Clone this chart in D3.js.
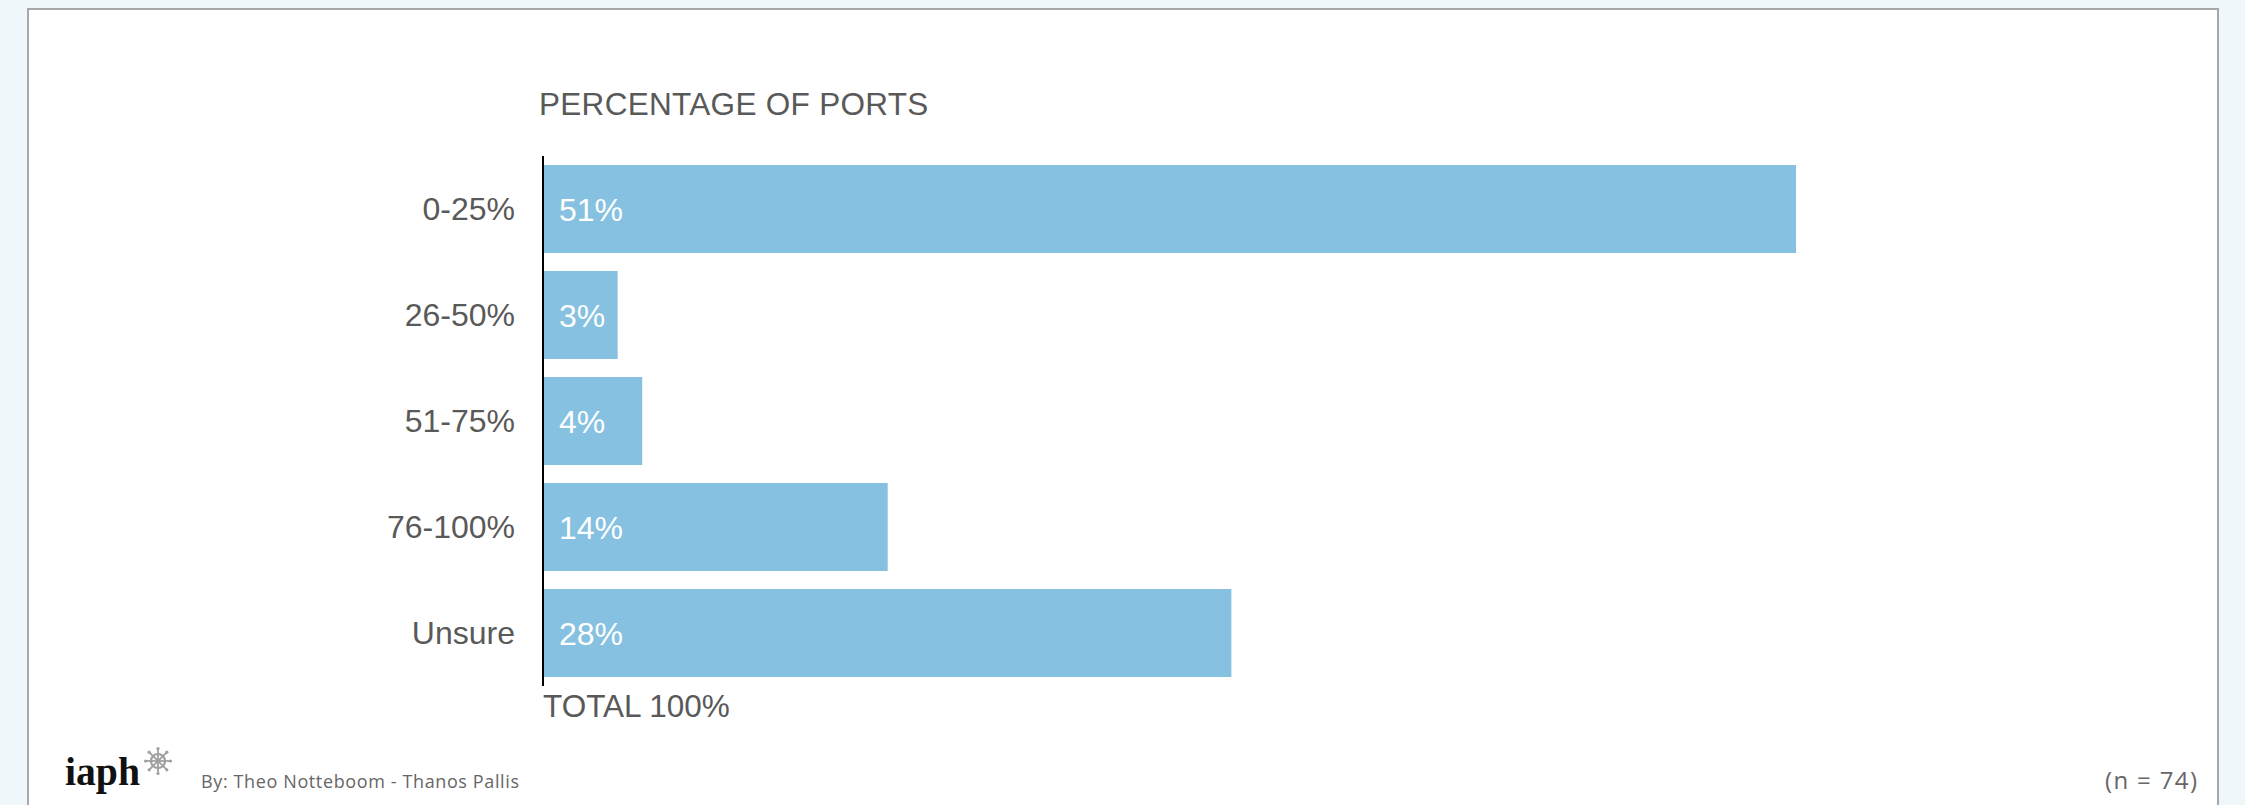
<!DOCTYPE html>
<html>
<head>
<meta charset="utf-8">
<script src="https://cdn.jsdelivr.net/npm/d3@7"></script>
<style>
  html, body { margin: 0; padding: 0; background: #eff7fb; }
  svg { display: block; }
</style>
</head>
<body>
<script>
// Share of ports per answer bracket
const categories = ["0-25%", "26-50%", "51-75%", "76-100%", "Unsure"];
const values = [51, 3, 4, 14, 28];
const titleText = "PERCENTAGE OF PORTS";
const totalText = "TOTAL 100%";
const creditText = "By: Theo Notteboom - Thanos Pallis";
const sampleText = "(n = 74)";

const W = 2245, H = 805;
const barColor = "#86c1e1";
const textColor = "#595959";
const sans = "Liberation Sans, Arial, sans-serif";

const svg = d3.select("body").append("svg")
  .attr("width", W).attr("height", H);

// page background and white card
svg.append("rect").attr("width", W).attr("height", H).attr("fill", "#eff7fb");
svg.append("rect")
  .attr("x", 28).attr("y", 9).attr("width", 2190).attr("height", H + 20)
  .attr("fill", "#ffffff").attr("stroke", "#a4a8ab").attr("stroke-width", 2);

const x = d3.scaleLinear().domain([0, d3.max(values)]).range([544, 1796]);
const y = d3.scaleBand().domain(categories).range([156, 686])
  .paddingInner(0.17).paddingOuter(0.085);

// bars
svg.append("g").selectAll("rect").data(values).join("rect")
  .attr("x", x(0))
  .attr("y", (d, i) => y(categories[i]))
  .attr("width", d => x(d) - x(0))
  .attr("height", y.bandwidth())
  .attr("fill", barColor);

// value labels inside bars
svg.append("g").selectAll("text").data(values).join("text")
  .attr("x", x(0) + 15)
  .attr("y", (d, i) => y(categories[i]) + y.bandwidth() / 2 + 11.5)
  .attr("fill", "#ffffff")
  .attr("font-family", sans)
  .attr("font-size", 32)
  .text(d => d + "%");

// category axis
const yAxis = d3.axisLeft(y).tickSize(0).tickPadding(28);
const gy = svg.append("g").attr("transform", `translate(${x(0) - 1},0)`).call(yAxis);
gy.select(".domain").attr("stroke", "#000").attr("stroke-width", 2)
  .attr("d", "M0,156V686");
gy.selectAll(".tick text")
  .attr("fill", textColor)
  .attr("font-family", sans)
  .attr("font-size", 32)
  .attr("dy", "0.35em");

// title and total
svg.append("text").attr("x", 539).attr("y", 114.5)
  .attr("fill", textColor)
  .attr("font-family", sans)
  .attr("font-size", 31.5)
  .attr("letter-spacing", 0.3)
  .text(titleText);
svg.append("text").attr("x", 543).attr("y", 717)
  .attr("fill", textColor)
  .attr("font-family", sans)
  .attr("font-size", 31.5).text(totalText);

// footer logo: wordmark with a ship's wheel
svg.append("text").attr("x", 65).attr("y", 785)
  .attr("fill", "#111")
  .attr("font-family", "Liberation Serif, DejaVu Serif, serif")
  .attr("font-weight", "bold")
  .attr("font-size", 40)
  .attr("textLength", 75).attr("lengthAdjust", "spacingAndGlyphs")
  .text("iaph");

const wheel = svg.append("g").attr("transform", "translate(158,761)")
  .attr("stroke", "#a0a0a0").attr("fill", "none");
wheel.append("circle").attr("r", 7).attr("stroke-width", 2.2);
wheel.append("circle").attr("r", 2.2).attr("fill", "#a0a0a0").attr("stroke", "none");
d3.range(8).forEach(k => {
  const a = k * Math.PI / 4;
  wheel.append("line")
    .attr("x1", 0).attr("y1", 0)
    .attr("x2", 12 * Math.cos(a)).attr("y2", 12 * Math.sin(a))
    .attr("stroke-width", 1.8);
  wheel.append("circle")
    .attr("cx", 12.5 * Math.cos(a)).attr("cy", 12.5 * Math.sin(a))
    .attr("r", 1.6).attr("fill", "#a0a0a0").attr("stroke", "none");
});

svg.append("text").attr("x", 201).attr("y", 788)
  .attr("fill", "#666")
  .attr("font-family", "Open Sans, sans-serif")
  .attr("font-size", 18)
  .attr("textLength", 318).attr("lengthAdjust", "spacing")
  .text(creditText);

svg.append("text").attr("x", 2105).attr("y", 789)
  .attr("fill", "#666")
  .attr("font-family", "Open Sans, sans-serif")
  .attr("font-size", 24)
  .attr("textLength", 92).attr("lengthAdjust", "spacing")
  .text(sampleText);
</script>
</body>
</html>
